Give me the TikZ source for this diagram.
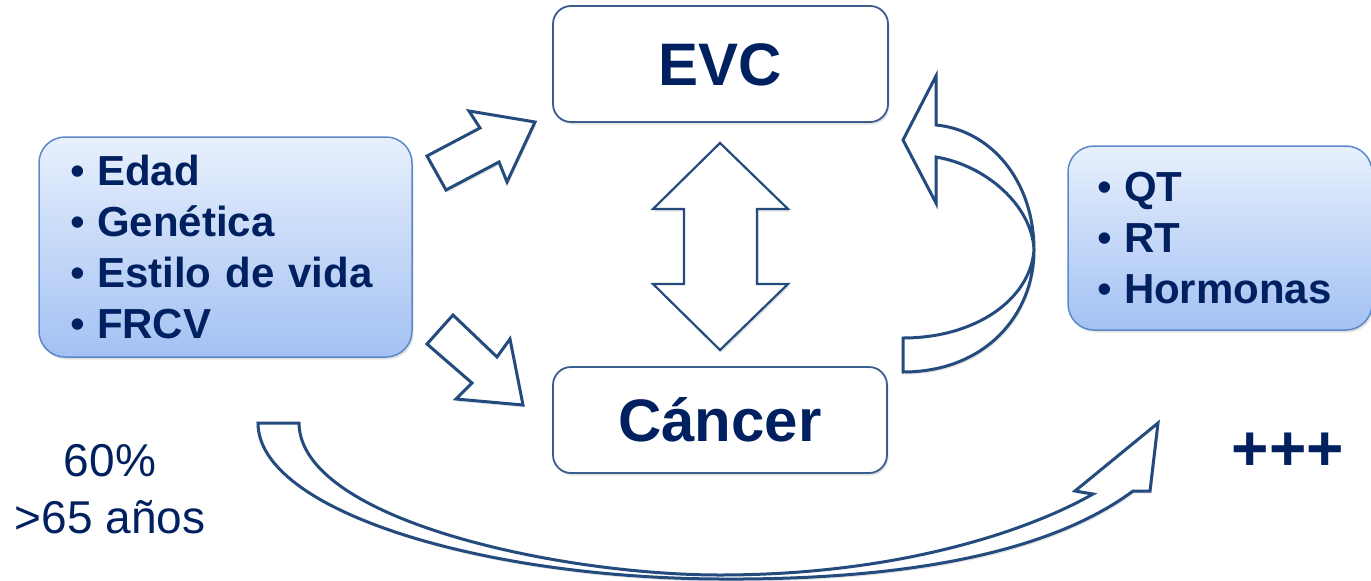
\documentclass[tikz,border=0pt]{standalone}
\usepackage{fontspec}
\setmainfont{Liberation Sans}
\usepackage{tikz}
\usetikzlibrary{shadows}
\definecolor{navy}{HTML}{002060}
\definecolor{boxline}{HTML}{3A5F8F}
\definecolor{listline}{HTML}{5B88C6}
\definecolor{listtop}{HTML}{E8F0FD}
\definecolor{listbottom}{HTML}{A3C1F3}
\definecolor{arrowline}{HTML}{244B7E}
\tikzset{my_shadow/.style={drop shadow={opacity=0.22, shadow xshift=1.5pt, shadow yshift=-2.5pt}}}
\tikzset{my_box/.style={rectangle, rounded corners=18pt, draw=boxline, line width=1.8pt, fill=white, my_shadow,
    text=navy, font=\bfseries\fontsize{60}{72}\selectfont, text height=43pt, text depth=0pt}}
\tikzset{my_list/.style={rectangle, rounded corners=26pt, draw=listline, line width=1.5pt, top color=listtop, bottom color=listbottom,
    my_shadow, text=navy, font=\bfseries\fontsize{42}{51}\selectfont, align=left}}
\tikzset{my_arrow/.style={draw=arrowline, line width=3pt, fill=white, line join=miter, my_shadow}}
\tikzset{my_label/.style={text=navy, align=center}}
\newcommand{\bul}{\makebox[27pt][l]{\fontseries{m}\selectfont\textbullet}}

\begin{document}
\begin{tikzpicture}[x=1pt, y=-1pt]
    \useasboundingbox (0,0) rectangle (1371,581);
    %\draw[help lines, step=50] (0,0) grid (1371,581);
    \node[my_box, minimum width=335pt, minimum height=116pt] (evc) at (720.5,64) {EVC};
    \node[my_box, minimum width=334pt, minimum height=106pt] (cancer) at (720,420) {Cáncer};
    \node[my_list, minimum width=373pt, minimum height=220pt, text width=311pt] (risk) at (225.5,247)
        {\bul Edad\\ \bul Genética\\ \bul Estilo de vida\\ \bul FRCV};
    \node[my_list, minimum width=304pt, minimum height=184pt, text width=246pt] (therapy) at (1220,238)
        {\bul QT\\ \bul RT\\ \bul Hormonas};
    \node[my_label, font=\fontsize{46}{57}\selectfont] (age) at (110,489) {60\%\\>65 años};
    \node[my_label, font=\bfseries\fontsize{64}{70}\selectfont] (more) at (1288,452) {+++};

    % block arrows
    \draw[my_arrow] (427,156) -- (480,128) -- (469,111) -- (535,122) -- (507,182) -- (499,162) -- (446,190) -- cycle;
    \draw[my_arrow] (427,344) -- (453,315) -- (497,357) -- (510,339) -- (523,405) -- (456,399) -- (472,383) -- cycle;
    \draw[my_arrow, line width=2.2pt] (720,143) -- (788,209) -- (757,209) -- (757,284) -- (788,284) -- (720,350)
        -- (653,284) -- (684,284) -- (684,209) -- (653,209) -- cycle;
    \draw[my_arrow] (903,372) .. controls (985,372) and (1034,315) .. (1034,250)
        .. controls (1034,180) and (990,130) .. (936,125) -- (936,76) -- (903,140) -- (936,203) -- (936,157)
        .. controls (985,165) and (1032,205) .. (1034,250)
        .. controls (1030,300) and (975,338) .. (903,338) -- cycle;
    \draw[my_arrow] (258,423) -- (299,423) .. controls (300,520) and (560,575) .. (720,575)
        .. controls (900,575) and (1030,530) .. (1093,494) -- (1075,491) -- (1158,423) -- (1150,491) -- (1133,491)
        .. controls (1040,560) and (880,580) .. (720,579)
        .. controls (480,578) and (258,510) .. (258,423) -- cycle;
\end{tikzpicture}
\end{document}
